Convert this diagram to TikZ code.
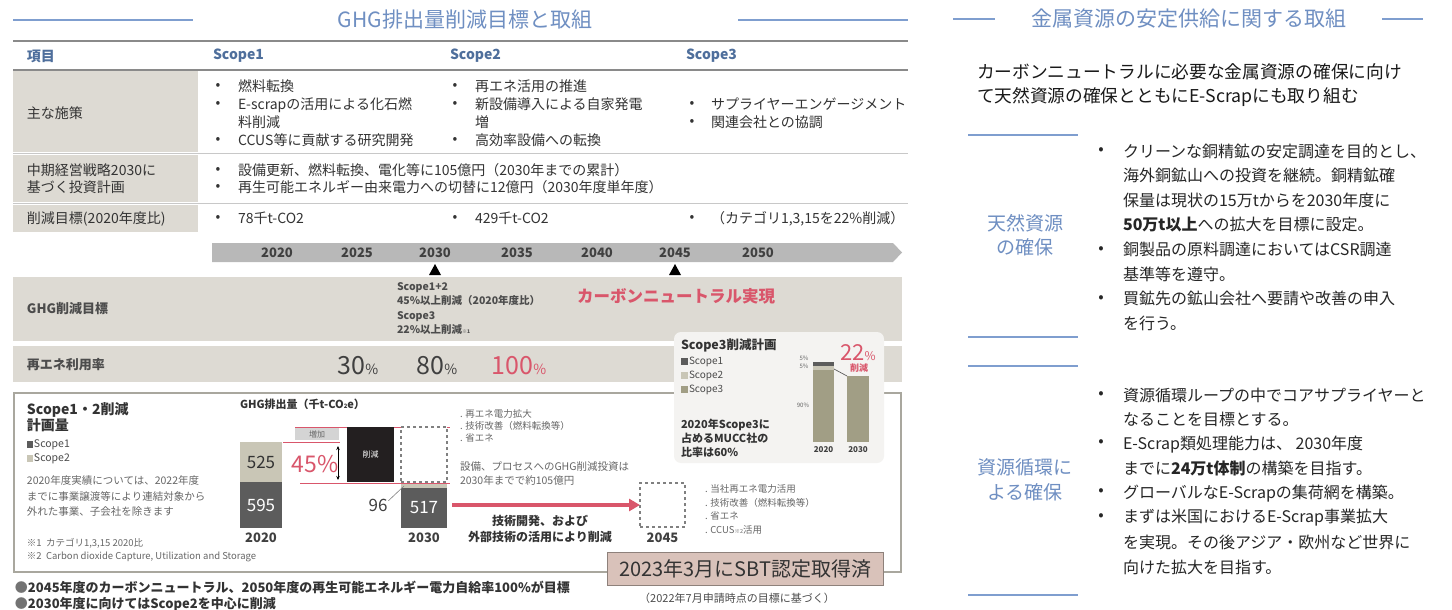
\documentclass[tikz,border=0pt]{standalone}
\usepackage{fontspec}
\setmainfont{Noto Sans CJK JP}
\usetikzlibrary{arrows.meta}
\definecolor{titleblue}{HTML}{6F8FC2}
\definecolor{lineblue}{HTML}{7F9ECF}
\definecolor{headblue}{HTML}{4F6F9C}
\definecolor{cellgray}{HTML}{DDDAD3}
\definecolor{rulegray}{HTML}{8A8A8A}
\definecolor{thingray}{HTML}{C8C8C8}
\definecolor{tlgray}{HTML}{B8B8B8}
\definecolor{redc}{HTML}{D9566B}
\definecolor{darkbar}{HTML}{5C5C5C}
\definecolor{lightbar}{HTML}{C9C6B6}
\definecolor{olive}{HTML}{A19E85}
\definecolor{txt}{HTML}{333333}
\definecolor{greytxt}{HTML}{666666}
\definecolor{boxline}{HTML}{A9A79E}
\definecolor{boxbg}{HTML}{F4F3F1}
\definecolor{sbtfill}{HTML}{D9C2BA}
\definecolor{sbtline}{HTML}{8E817B}
\definecolor{blackbox}{HTML}{231F20}
\newcommand{\myfs}[2]{\fontsize{#1}{#2}\selectfont}
\begin{document}
\begin{tikzpicture}[x=1pt,y=-1pt,
  every node/.style={inner sep=0pt,outer sep=0pt,text=txt},
  tl/.style={anchor=west,align=left},
  tc/.style={align=center},
  bl/.style={draw=lineblue,line width=2pt},
  ttl/.style={text=titleblue,font=\myfs{21}{24}},
  hdr/.style={anchor=west,text=headblue,font=\bfseries\myfs{14}{16}},
  body/.style={font=\myfs{14}{18}},
  rule/.style={draw=rulegray,line width=1.6pt},
  thin/.style={draw=thingray,line width=1pt},
  redln/.style={draw=redc,line width=0.8pt},
  dbox/.style={draw=gray,dashed,line width=1.3pt,fill=white},
  yr/.style={font=\bfseries\myfs{13}{13},text=black!75},
  rbody/.style={font=\myfs{16}{20},text=black!85}
]
\useasboundingbox (0,0) rectangle (1452,610);
\fill[white] (0,0) rectangle (1452,610);

%% ---------- left title ----------
\draw[bl] (13,20) -- (193,20);
\draw[bl] (738,20) -- (908,20);
\node[ttl] (title1) at (465,20) {GHG排出量削減目標と取組};

%% ---------- table ----------
\draw[rule] (13,41) -- (908,41);
\node[hdr] (h0) at (27,56) {項目};
\node[hdr] (h1) at (213,56) {Scope1};
\node[hdr] (h2) at (450,56) {Scope2};
\node[hdr] (h3) at (686,56) {Scope3};
\draw[rule] (13,70) -- (908,70);
\fill[cellgray] (13,71) rectangle (198,152);
\draw[thin] (13,153.5) -- (908,153.5);
\fill[cellgray] (13,155) rectangle (198,202);
\draw[thin] (13,203.5) -- (908,203.5);
\fill[cellgray] (13,205) rectangle (198,232);

\node[tl,body] (r1l) at (27,113) {主な施策};
\node[tc,body] (r1b1) at (218,113) {•\\•\\\phantom{•}\\•};
\node[tl,body] (r1s1) at (238,113) {燃料転換\\E-scrapの活用による化石燃\\料削減\\CCUS等に貢献する研究開発};
\node[tc,body] (r1b2) at (455,113) {•\\•\\\phantom{•}\\•};
\node[tl,body] (r1s2) at (475,113) {再エネ活用の推進\\新設備導入による自家発電\\増\\高効率設備への転換};
\node[tc,body] (r1b3) at (692,113) {•\\•};
\node[tl,body] (r1s3) at (711,113) {サプライヤーエンゲージメント\\関連会社との協調};

\node[tl,font=\myfs{14}{17}] (r2l) at (27,178.5) {中期経営戦略2030に\\基づく投資計画};
\node[tc,font=\myfs{14}{17}] (r2b) at (218,178.5) {•\\•};
\node[tl,font=\myfs{14}{17}] (r2t) at (238,178.5) {設備更新、燃料転換、電化等に105億円（2030年までの累計）\\再生可能エネルギー由来電力への切替に12億円（2030年度単年度）};

\node[tl,body] (r3l) at (27,218.5) {削減目標(2020年度比)};
\node[tc,body] (r3b1) at (218,218.5) {•};
\node[tl,body] (r3s1) at (238,218.5) {78千t-CO2};
\node[tc,body] (r3b2) at (455,218.5) {•};
\node[tl,body] (r3s2) at (475,218.5) {429千t-CO2};
\node[tc,body] (r3b3) at (692,218.5) {•};
\node[tl,body] (r3s3) at (711,218.5) {（カテゴリ1,3,15を22\%削減）};

%% ---------- timeline ----------
\fill[tlgray] (212,243) -- (893,243) -- (902,252.5) -- (893,262) -- (212,262) -- cycle;
\foreach \yy/\xx in {2020/277,2025/357,2030/435,2035/517,2040/597,2045/675,2050/758}
  \node[yr] (y\yy) at (\xx,252.5) {\yy};
\fill[black] (429,275) -- (441,275) -- (435,264) -- cycle;
\fill[black] (669,275) -- (681,275) -- (675,264) -- cycle;

%% ---------- bands ----------
\fill[cellgray] (13,277) rectangle (902,341);
\fill[cellgray] (13,346) rectangle (902,382);
\node[tl,font=\bfseries\myfs{13}{15},text=black!70] (ghgl) at (27,309) {GHG削減目標};
\node[tl,font=\bfseries\myfs{10.5}{14.5},text=black!70] (ghgt) at (397,308.5) {Scope1+2\\45\%以上削減（2020年度比）\\Scope3\\22\%以上削減{\myfs{5}{5}※1}};
\node[font=\bfseries\myfs{16.5}{18},text=redc] (cn) at (676,296) {カーボンニュートラル実現};
\node[tl,font=\bfseries\myfs{13}{15},text=black!70] (rel) at (27,364.5) {再エネ利用率};
\node[font=\myfs{25}{25},text=black!75] (p30) at (358,366) {30{\myfs{14}{14}\%}};
\node[font=\myfs{25}{25},text=black!75] (p80) at (437,366) {80{\myfs{14}{14}\%}};
\node[font=\myfs{25}{25},text=redc] (p100) at (519,366) {100{\myfs{14}{14}\%}};

%% ---------- bottom box ----------
\draw[draw=boxline,line width=2.5pt] (14,393) rectangle (901,572);

%% ---------- scope3 inset ----------
\fill[boxbg,rounded corners=7pt] (674,332) rectangle (884,463);
\node[tl,font=\bfseries\myfs{12.5}{14}] (s3t) at (681,345) {Scope3削減計画};
\fill[darkbar] (681,358) rectangle (688,365);
\fill[lightbar] (681,372) rectangle (688,379);
\fill[olive] (681,386) rectangle (688,393);
\node[tl,font=\myfs{10}{12},text=black!70] (s3l1) at (689,362) {Scope1};
\node[tl,font=\myfs{10}{12},text=black!70] (s3l2) at (689,376) {Scope2};
\node[tl,font=\myfs{10}{12},text=black!70] (s3l3) at (689,390) {Scope3};
\node[tl,font=\bfseries\myfs{11}{14}] (s3n) at (681,438) {2020年Scope3に\\占めるMUCC社の\\比率は60\%};
\fill[darkbar] (813,362) rectangle (834,366);
\fill[lightbar] (813,366) rectangle (834,370);
\fill[olive] (813,370) rectangle (834,442);
\fill[olive] (847,376) rectangle (869,442);
\draw[darkbar,line width=0.7pt] (834,369) -- (847,376);
\node[font=\myfs{6}{6},text=black!60] (s3p1) at (804,358) {5\%};
\node[font=\myfs{6}{6},text=black!60] (s3p2) at (804,366) {5\%};
\node[font=\myfs{6}{6},text=black!60] (s3p3) at (803,405) {90\%};
\node[font=\bfseries\myfs{8}{8},text=black!75] (s3y1) at (823.5,450) {2020};
\node[font=\bfseries\myfs{8}{8},text=black!75] (s3y2) at (858,450) {2030};
\node[font=\myfs{22}{22},text=redc] (s3pc) at (858,353) {22{\myfs{12}{12}\%}};
\node[font=\bfseries\myfs{9}{9},text=redc] (s3cut) at (859,368) {削減};

%% ---------- bottom box left text ----------
\node[tl,font=\bfseries\myfs{14}{16}] (bt) at (27,417) {Scope1・2削減\\計画量};
\fill[darkbar] (27,441) rectangle (33,448);
\fill[lightbar] (27,455) rectangle (33,462);
\node[tl,font=\myfs{10.5}{12},text=black!70] (bl1) at (34,445) {Scope1};
\node[tl,font=\myfs{10.5}{12},text=black!70] (bl2) at (34,459) {Scope2};
\node[tl,font=\myfs{10.5}{15.5},text=greytxt] (bnote) at (27,496.5) {2020年度実績については、2022年度\\までに事業譲渡等により連結対象から\\外れた事業、子会社を除きます};
\node[tl,font=\myfs{9.5}{13},text=greytxt] (bfn) at (27,550.5) {※1\ \ カテゴリ1,3,15 2020比\\※2\ \ Carbon dioxide Capture, Utilization and Storage};

%% ---------- GHG chart ----------
\node[tl,font=\bfseries\myfs{11}{12}] (gt) at (240,404) {GHG排出量（千t-CO{\myfs{6}{6}2}e）};
\node[fill=lightbar,minimum width=42pt,minimum height=40pt,font=\myfs{17}{17}] (b525) at (261,462) {525};
\node[fill=darkbar,minimum width=42pt,minimum height=46pt,font=\myfs{17}{17},text=white] (b595) at (261,505) {595};
\node[yr] (x2020) at (261,538) {2020};
\node[fill=black!17,minimum width=44pt,minimum height=12pt,font=\myfs{8}{8},text=black!60] (inc) at (317,434) {増加};
\draw[redln] (295,427.5) -- (450,427.5);
\draw[redln] (283,442) -- (340,442);
\draw[redln] (300,483) -- (450,483);
\node[font=\myfs{23}{23},text=redc] (p45) at (315,464) {45\%};
\draw[{Stealth[length=4pt,width=3.5pt]}-{Stealth[length=4pt,width=3.5pt]},line width=0.7pt] (338,446) -- (338,480);
\node[fill=blackbox,minimum width=47pt,minimum height=55pt,font=\myfs{8}{8},text=white] (cut) at (370.5,454.5) {削減};
\node[dbox,minimum width=46pt,minimum height=55pt] (d2030) at (424,454.5) {};
\fill[lightbar] (401,483.5) rectangle (447,488);
\node[fill=darkbar,minimum width=46pt,minimum height=40pt,font=\myfs{17}{17},text=white] (b517) at (424,508) {517};
\node[font=\myfs{17}{17},text=black!75] (n96) at (378,505) {96};
\draw[gray,line width=0.6pt] (n96.north east) ++(1,2) -- (404,486);
\node[yr] (x2030) at (424,538) {2030};
\node[tl,font=\myfs{9.5}{12},text=greytxt] (m1) at (460,426) {. 再エネ電力拡大\\. 技術改善（燃料転換等）\\. 省エネ};
\node[tl,font=\myfs{10.5}{14},text=greytxt] (m2) at (460,474) {設備、プロセスへのGHG削減投資は\\2030年までで約105億円};
\node[dbox,minimum width=45pt,minimum height=44pt] (d2045) at (662.5,505) {};
\draw[draw=redc,line width=3.5pt,-{Triangle[length=11pt,width=12pt]},shorten <=5pt] (d2045.west -| b517.east) -- (d2045.west);
\node[yr] (x2045) at (662.5,538) {2045};
\node[tl,font=\myfs{9.5}{13.5},text=greytxt] (m3) at (705,509.5) {. 当社再エネ電力活用\\. 技術改善（燃料転換等）\\. 省エネ\\. CCUS{\myfs{5.5}{5.5}※2}活用};
\node[tc,font=\bfseries\myfs{12}{16}] (tech) at (540,529) {技術開発、および\\外部技術の活用により削減};
\node[draw=sbtline,fill=sbtfill,line width=1pt,minimum width=276pt,minimum height=33pt,font=\myfs{20}{20},text=black!80] (sbt) at (745,568.5) {2023年3月にSBT認定取得済};
\node[font=\myfs{11}{11},text=black!70] (sbtn) at (737,598) {（2022年7月申請時点の目標に基づく）};

%% ---------- bottom bullets ----------
\node[tl,font=\bfseries\myfs{13}{17}] (fb1) at (15,587) {{\color{black!55}●}2045年度のカーボンニュートラル、2050年度の再生可能エネルギー電力自給率100\%が目標};
\node[tl,font=\bfseries\myfs{13}{17}] (fb2) at (15,604) {{\color{black!55}●}2030年度に向けてはScope2を中心に削減};

%% ---------- right panel ----------
\draw[bl] (953,19) -- (995,19);
\draw[bl] (1382,19) -- (1423,19);
\node[ttl] (title2) at (1189,19) {金属資源の安定供給に関する取組};
\node[tl,font=\myfs{17.7}{20},text=black!90] (intro1) at (977,72) {カーボンニュートラルに必要な金属資源の確保に向け};
\node[tl,font=\myfs{17.7}{20},text=black!90] (intro2) at (977,97) {て天然資源の確保とともにE-Scrapにも取り組む};
\draw[bl] (968,135) -- (1078,135);
\draw[bl] (968,337) -- (1078,337);
\draw[bl] (968,366) -- (1078,366);
\draw[bl] (968,595) -- (1078,595);
\node[tc,font=\myfs{19}{24},text=titleblue] (nat) at (1025,235) {天然資源\\の確保};
\foreach \i/\yy in {1/151,2/250,3/299}
  \node[rbody] (nb\i) at (1101,\yy) {•};
\foreach \i/\yy/\tx in {
  1/151/{クリーンな銅精鉱の安定調達を目的とし、},
  2/175.6/{海外銅鉱山への投資を継続。銅精鉱確},
  3/200.2/{保量は現状の15万tからを2030年度に},
  4/224.8/{\textbf{50万t以上}への拡大を目標に設定。},
  5/249.4/{銅製品の原料調達においてはCSR調達},
  6/274/{基準等を遵守。},
  7/298.6/{買鉱先の鉱山会社へ要請や改善の申入},
  8/323.2/{を行う。}}
  \node[tl,rbody] (nt\i) at (1123,\yy) {\tx};
\node[tc,font=\myfs{19}{25},text=titleblue] (rec) at (1025,479.5) {資源循環に\\よる確保};
\foreach \i/\yy in {1/395,2/443,3/492,4/517}
  \node[rbody] (rb\i) at (1101,\yy) {•};
\foreach \i/\yy/\tx in {
  1/395/{資源循環ループの中でコアサプライヤーと},
  2/419.6/{なることを目標とする。},
  3/444.2/{E-Scrap類処理能力は、 2030年度},
  4/468.8/{までに\textbf{24万t体制}の構築を目指す。},
  5/493.4/{グローバルなE-Scrapの集荷網を構築。},
  6/518/{まずは米国におけるE-Scrap事業拡大},
  7/542.6/{を実現。その後アジア・欧州など世界に},
  8/567.2/{向けた拡大を目指す。}}
  \node[tl,rbody] (rt\i) at (1123,\yy) {\tx};
\end{tikzpicture}
\end{document}
